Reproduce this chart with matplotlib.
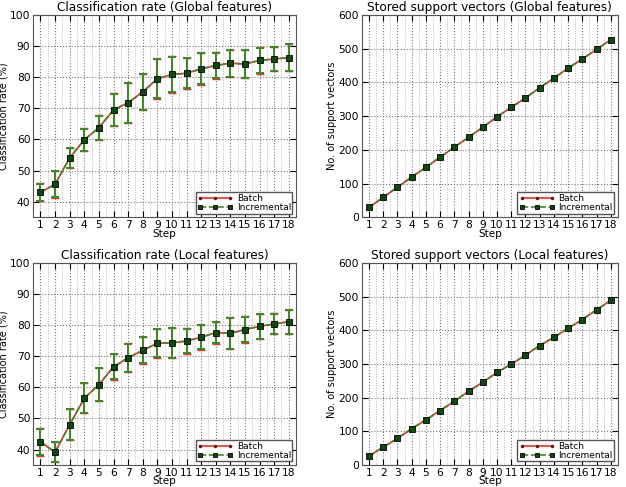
import numpy as np
import matplotlib
matplotlib.use("Agg")
import matplotlib.pyplot as plt
from matplotlib.ticker import MultipleLocator

steps = list(range(1, 19))

# classification rate, global features
glob_rate = [43.0, 45.6, 54.1, 59.9, 63.8, 69.5, 71.8, 75.3, 79.5,
             80.9, 81.3, 82.7, 83.8, 84.5, 84.3, 85.4, 85.9, 86.3]
glob_err_inc = [2.8, 4.2, 3.2, 3.6, 3.9, 5.2, 6.4, 5.8, 6.3,
                5.7, 4.9, 5.0, 4.1, 4.3, 4.4, 4.1, 3.9, 4.3]
glob_err_bat = [2.9, 4.3, 3.3, 3.7, 4.0, 5.3, 6.5, 5.9, 6.5,
                5.8, 5.0, 5.1, 4.2, 4.4, 4.5, 4.2, 4.0, 4.4]

# classification rate, local features
loc_rate = [42.4, 39.2, 48.0, 56.5, 60.9, 66.6, 69.5, 71.9, 74.2,
            74.3, 74.9, 76.1, 77.6, 77.4, 78.6, 79.6, 80.4, 81.1]
loc_err_inc = [4.3, 3.2, 4.9, 4.8, 5.3, 4.0, 4.6, 4.2, 4.5,
               4.7, 4.0, 3.9, 3.4, 5.0, 4.1, 4.0, 3.3, 3.8]
loc_err_bat = [4.4, 3.3, 5.0, 4.9, 5.4, 4.1, 4.7, 4.3, 4.6,
               4.8, 4.1, 4.0, 3.5, 5.1, 4.2, 4.1, 3.4, 3.9]

# stored support vectors
glob_sv = [29, 59, 89, 119, 148, 178, 208, 237, 267,
           298, 326, 354, 384, 413, 442, 470, 498, 527]
loc_sv = [27, 53, 79, 108, 134, 162, 189, 219, 246,
          275, 300, 326, 355, 379, 406, 432, 461, 489]

red = "#e8342a"
green = "#44852a"
dkgreen = "#0d4a0d"
dkred = "#7a0b0b"

plt.rcParams['font.family'] = 'DejaVu Sans'

fig = plt.figure(figsize=(6.26, 4.87), dpi=100)
positions = [[0.053, 0.554, 0.420, 0.415],
             [0.578, 0.554, 0.409, 0.415],
             [0.053, 0.045, 0.420, 0.415],
             [0.578, 0.045, 0.409, 0.415]]


def style_axes(ax, title, ylabel):
    ax.set_title(title, fontsize=8.7, pad=3)
    ax.set_xlabel("Step", fontsize=7.5, labelpad=-1)
    ax.set_ylabel(ylabel, fontsize=7, labelpad=1)
    ax.set_xlim(0.5, 18.5)
    ax.set_xticks(steps)
    ax.xaxis.set_minor_locator(MultipleLocator(0.5))
    ax.tick_params(axis='both', which='major', direction='in', length=4,
                   labelsize=7.7, top=True, right=True, pad=2)
    ax.tick_params(axis='x', which='minor', length=0)
    ax.grid(True, which='major', linestyle=':', color='#777777', linewidth=0.8)
    ax.grid(True, which='minor', axis='x', linestyle=':', color='#aaaaaa', linewidth=0.6)
    for sp in ax.spines.values():
        sp.set_color('#555555')
    ax.legend(loc='lower right', fontsize=6.5, handlelength=4, borderpad=0.15,
              labelspacing=0.05, fancybox=False, framealpha=1, numpoints=3,
              markerscale=0.6, edgecolor='#555555', borderaxespad=0.4,
              handletextpad=0.4)


def lines(ax, y):
    ax.plot(steps, y, color=red, lw=1.2, marker='o', ms=2.5, mfc=dkred,
            mec=dkred, label='Batch', zorder=3)
    ax.plot(steps, y, color=green, lw=1.2, ls='--', marker='s', ms=4.5,
            mfc=dkgreen, mec='black', mew=0.6, label='Incremental', zorder=4)


def rate_plot(ax, rate, err_bat, err_inc, title):
    ax.errorbar(steps, rate, yerr=err_bat, fmt='none', ecolor=red,
                elinewidth=1.2, capsize=3, zorder=2)
    ax.errorbar(steps, rate, yerr=err_inc, fmt='none', ecolor=green,
                elinewidth=1.5, capsize=3, capthick=1.5, zorder=2.5)
    lines(ax, rate)
    ax.set_ylim(35, 100)
    ax.set_yticks(range(40, 101, 10))
    style_axes(ax, title, "Classification rate (%)")


def sv_plot(ax, sv, title):
    lines(ax, sv)
    ax.set_ylim(0, 600)
    ax.set_yticks(range(0, 601, 100))
    style_axes(ax, title, "No. of support vectors")


axs = [fig.add_axes(p) for p in positions]
rate_plot(axs[0], glob_rate, glob_err_bat, glob_err_inc, "Classification rate (Global features)")
sv_plot(axs[1], glob_sv, "Stored support vectors (Global features)")
rate_plot(axs[2], loc_rate, loc_err_bat, loc_err_inc, "Classification rate (Local features)")
sv_plot(axs[3], loc_sv, "Stored support vectors (Local features)")

fig.savefig("out.png", dpi=100)
